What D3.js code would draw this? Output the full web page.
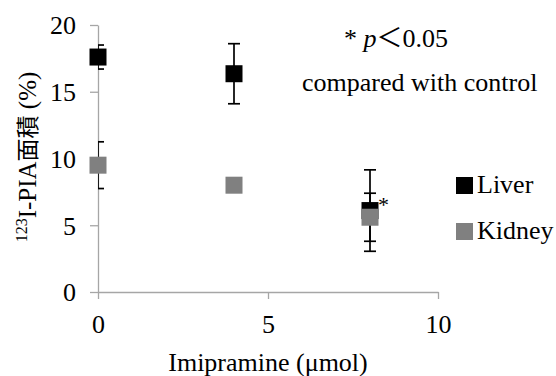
<!DOCTYPE html>
<html>
<head>
<meta charset="utf-8">
<script src="https://cdn.jsdelivr.net/npm/d3@7"></script>
<style>
  html, body { margin: 0; padding: 0; background: #fff; }
  svg { display: block; }
  text { font-family: "Liberation Serif", "Times New Roman", "Noto Sans CJK JP", serif; fill: #000; }
</style>
</head>
<body>
<svg id="chart" width="556" height="376"></svg>
<script>
// Imipramine dose (µmol)
const doses = [0, 4, 8];
// 123I-PIA area (%) — mean and error per organ
const liverMean = [17.6, 16.35, 6.1];
const liverErr = [0.9, 2.25, 3.05];
const kidneyMean = [9.5, 8.0, 5.6];
const kidneyErr = [1.75, 0.3, 1.8];
const xTicks = [0, 5, 10];
const yTicks = [0, 5, 10, 15, 20];
const seriesNames = ["Liver", "Kidney"];
const seriesColors = ["#000000", "#808080"];

const svg = d3.select("#chart");
const axisColor = "#a6a6a6";
const font = "26px";
const serif = "Liberation Serif, Times New Roman, serif";

const x = d3.scaleLinear().domain([0, 10]).range([98, 438]);
const y = d3.scaleLinear().domain([0, 20]).range([292, 25]);

// clip so error bars at the y axis show only inside the plot
svg.append("defs").append("clipPath").attr("id", "plotClip")
  .append("rect").attr("x", x(0)).attr("y", 0).attr("width", x(10) - x(0) + 30).attr("height", y(0));

// axes
const gx = svg.append("g").attr("transform", `translate(0,${y(0)})`)
  .call(d3.axisBottom(x).tickValues(xTicks).tickSize(7).tickSizeOuter(0).tickPadding(16));
const gy = svg.append("g").attr("transform", `translate(${x(0)},0)`)
  .call(d3.axisLeft(y).tickValues(yTicks).tickSize(8).tickSizeOuter(0).tickPadding(14));
[gx, gy].forEach(g => {
  g.attr("font-family", serif);
  g.select(".domain").attr("stroke", axisColor).attr("stroke-width", 1.3);
  g.selectAll(".tick line").attr("stroke", axisColor).attr("stroke-width", 1.3);
  g.selectAll(".tick text").attr("font-size", font).attr("fill", "#000").attr("font-family", serif);
});
gy.selectAll(".tick text").attr("dy", "0.34em");

const series = [
  { name: seriesNames[0], mean: liverMean, err: liverErr, color: seriesColors[0] },
  { name: seriesNames[1], mean: kidneyMean, err: kidneyErr, color: seriesColors[1] }
];

// error bars
const eb = svg.append("g").attr("clip-path", "url(#plotClip)");
const cap = 6;
series.forEach(s => {
  doses.forEach((d, i) => {
    const cx = x(d), hi = y(s.mean[i] + s.err[i]), lo = y(s.mean[i] - s.err[i]);
    const g = eb.append("g").attr("stroke", "#000").attr("stroke-width", 1.7);
    g.append("line").attr("x1", cx).attr("x2", cx).attr("y1", hi).attr("y2", lo);
    g.append("line").attr("x1", cx - cap).attr("x2", cx + cap).attr("y1", hi).attr("y2", hi);
    g.append("line").attr("x1", cx - cap).attr("x2", cx + cap).attr("y1", lo).attr("y2", lo);
  });
});

// square markers
const size = 17;
series.forEach(s => {
  svg.append("g").selectAll("rect").data(doses).join("rect")
    .attr("x", d => x(d) - size / 2)
    .attr("y", (d, i) => y(s.mean[i]) - size / 2)
    .attr("width", size).attr("height", size)
    .attr("fill", s.color);
});

// significance mark at the high dose liver point
svg.append("text").attr("x", x(8) + 8).attr("y", y(liverMean[2]) + 1)
  .attr("font-size", "22px").attr("fill", "#404040").text("*");

// note
const note = svg.append("text").attr("x", 344).attr("y", 47).attr("font-size", font);
note.append("tspan").text("* ");
note.append("tspan").attr("font-style", "italic").text("p");
note.append("tspan").attr("font-family", "Liberation Serif, Noto Sans CJK JP, serif").text("＜0.05");
svg.append("text").attr("x", 302).attr("y", 91).attr("font-size", font).text("compared with control");

// legend
const legend = svg.append("g");
series.forEach((s, i) => {
  const ly = 185 + i * 46;
  legend.append("rect").attr("x", 456).attr("y", ly - 8).attr("width", 17).attr("height", 17).attr("fill", s.color);
  legend.append("text").attr("x", 477).attr("y", ly + 8).attr("font-size", font).text(s.name);
});

// axis titles
svg.append("text").attr("x", x(5)).attr("y", 371).attr("text-anchor", "middle")
  .attr("font-size", font).text("Imipramine (μmol)");

const yt = svg.append("text").attr("transform", "translate(36,157) rotate(-90)")
  .attr("text-anchor", "middle").attr("font-size", "25px");
yt.append("tspan").attr("font-size", "16px").attr("dy", "-9").text("123");
yt.append("tspan").attr("dy", "9").text("I-PIA");
yt.append("tspan").attr("font-family", "Noto Sans CJK JP, sans-serif").attr("font-size", "23px").text("面積");
yt.append("tspan").text(" (%)");
</script>
</body>
</html>
